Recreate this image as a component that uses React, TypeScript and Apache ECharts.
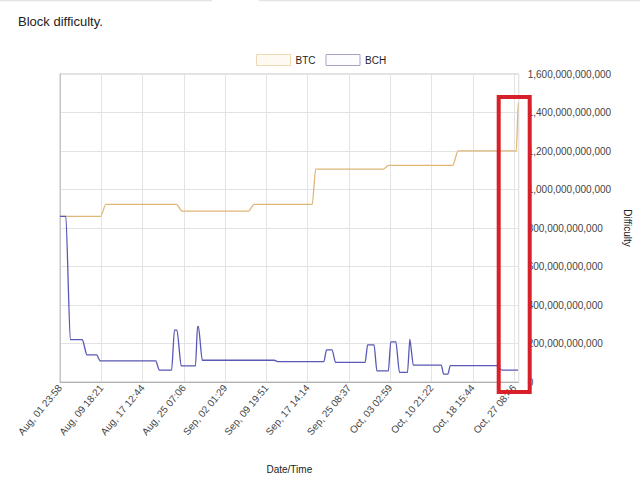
import React, { useEffect, useRef } from "react";
import * as echarts from "echarts";

// X positions are days since Aug 01 23:58
const xTickLabels = [
  "Aug, 01 23:58",
  "Aug, 09 18:21",
  "Aug, 17 12:44",
  "Aug, 25 07:06",
  "Sep, 02 01:29",
  "Sep, 09 19:51",
  "Sep, 17 14:14",
  "Sep, 25 08:37",
  "Oct, 03 02:59",
  "Oct, 10 21:22",
  "Oct, 18 15:44",
  "Oct, 27 08:46",
];
const X_INTERVAL = 7.765972; // 7d 18h 23m between labels
const X_MAX = 86.3;

const btcDays = [0, 7.65, 8.59, 21.95, 22.89, 35.53, 36.46, 47.47, 48.09, 60.86, 61.79, 73.93, 74.86, 85.87, 86.21, 86.3];
const btcDifficultyB = [860, 860, 923, 923, 888, 888, 923, 923, 1106, 1106, 1125, 1125, 1201, 1201, 1452, 1452];

const bchDays = [
  0, 1.12, 1.92, 4.22, 5.04, 6.91, 7.52, 18.03, 18.67, 21.02, 21.52, 22.03, 22.78, 25.5, 25.87, 26.06, 26.75,
  40.32, 40.94, 49.66, 50.14, 51.21, 51.82, 57.42, 57.87, 59.1, 59.61, 61.79, 62.22, 63.21, 63.85, 65.39,
  65.82, 66.46, 71.74, 72.17, 72.99, 73.42, 82.14, 83.13, 86.17,
];
const bchDifficultyB = [
  860, 860, 220, 220, 141, 141, 110, 110, 62, 62, 270, 270, 84, 84, 287, 287, 113,
  113, 106, 106, 167, 167, 102, 102, 193, 193, 58, 58, 208, 208, 50, 50,
  222, 88, 88, 41, 41, 85, 85, 62, 62,
];

const FONT = 'Arial, "Liberation Sans", sans-serif';

export default function App() {
  const ref = useRef<HTMLDivElement>(null);
  useEffect(() => {
    if (!ref.current) return;
    const chart = echarts.init(ref.current, null, { renderer: "svg" });
    const btc = btcDays.map((d, i) => [d, btcDifficultyB[i] * 1e9]);
    const bch = bchDays.map((d, i) => [d, bchDifficultyB[i] * 1e9]);
    chart.setOption({
      animation: false,
      backgroundColor: "#fff",
      textStyle: { fontFamily: FONT },
      title: {
        text: "Block difficulty.",
        left: 13,
        top: 10,
        textStyle: { fontSize: 13, fontWeight: "normal", color: "#222", fontFamily: FONT },
      },
      legend: {
        left: 251,
        top: 49,
        icon: "rect",
        itemWidth: 34,
        itemHeight: 11,
        itemGap: 10,
        textStyle: { fontSize: 10, color: "#222", fontFamily: FONT },
        data: [
          { name: "BTC", itemStyle: { color: "#fffaf1", borderColor: "#eed8b6", borderWidth: 1 } },
          { name: "BCH", itemStyle: { color: "#fdfdff", borderColor: "#a4a4c8", borderWidth: 1 } },
        ],
      },
      grid: {
        left: 60,
        right: 117,
        top: 74,
        bottom: 95,
        show: true,
        borderColor: "#c4c4c4",
        borderWidth: 1,
      },
      xAxis: {
        type: "value",
        min: 0,
        max: X_MAX,
        interval: X_INTERVAL,
        name: "Date/Time",
        nameLocation: "middle",
        nameGap: 82,
        nameTextStyle: { fontSize: 10, color: "#222", fontFamily: FONT },
        axisLine: { show: true, lineStyle: { color: "#b0b0b0" } },
        axisTick: { show: false },
        splitLine: { show: true, lineStyle: { color: "#e3e3e3" } },
        axisLabel: {
          rotate: 50,
          margin: 4,
          fontSize: 10,
          color: "#444",
          fontFamily: FONT,
          showMaxLabel: false,
          formatter: (v: number) => {
            const i = Math.round(v / X_INTERVAL);
            if (Math.abs(v - i * X_INTERVAL) > 1e-6) return "";
            return xTickLabels[i] ?? "";
          },
        },
      },
      yAxis: {
        type: "value",
        position: "right",
        min: 0,
        max: 1600e9,
        interval: 200e9,
        name: "Difficulty",
        nameLocation: "middle",
        nameGap: 102,
        nameRotate: -90,
        nameTextStyle: { fontSize: 10, color: "#222", fontFamily: FONT },
        axisLine: { show: true, lineStyle: { color: "#c4c4c4" } },
        axisTick: { show: false },
        splitLine: { show: true, lineStyle: { color: "#e3e3e3" } },
        axisLabel: {
          margin: 9,
          fontSize: 10,
          color: "#444",
          fontFamily: FONT,
          formatter: (v: number) => v.toLocaleString("en-US"),
        },
      },
      series: [
        {
          name: "BTC",
          type: "line",
          data: btc,
          showSymbol: false,
          smooth: 0.2,
          smoothMonotone: "x",
          lineStyle: { color: "#e0b677", width: 1.3 },
          itemStyle: { color: "#e0b677" },
          z: 3,
        },
        {
          name: "BCH",
          type: "line",
          data: bch,
          showSymbol: false,
          smooth: 0.2,
          smoothMonotone: "x",
          lineStyle: { color: "#5858b6", width: 1.3 },
          itemStyle: { color: "#5858b6" },
          z: 4,
        },
      ],
      graphic: [
        { type: "line", shape: { x1: 0, y1: 0.5, x2: 212, y2: 0.5 }, style: { stroke: "#e4e4e4", lineWidth: 1.5 } },
        { type: "line", shape: { x1: 259, y1: 0.5, x2: 640, y2: 0.5 }, style: { stroke: "#e4e4e4", lineWidth: 1.5 } },
        {
          type: "rect",
          z: 100,
          shape: { x: 498.7, y: 97, width: 31, height: 295 },
          style: { fill: "none", stroke: "#d8202a", lineWidth: 4 },
        },
      ],
    });
    return () => chart.dispose();
  }, []);
  return (
    <div
      ref={ref}
      style={{ position: "absolute", left: 0, top: 0, width: 640, height: 479 }}
    />
  );
}
